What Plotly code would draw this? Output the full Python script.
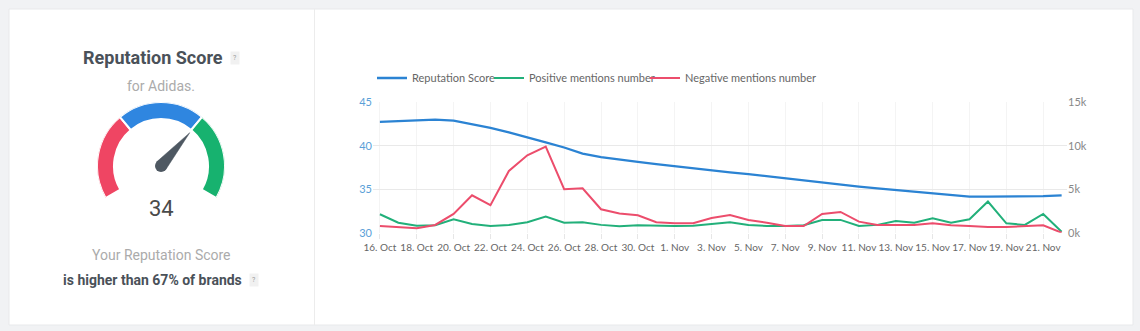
import plotly.graph_objects as go
import pandas as pd

W, H = 1140, 331

# ---------------- data ----------------
dates = pd.date_range("2021-10-16", "2021-11-22", freq="D")

reputation_score = [42.75, 42.85, 42.95, 43.0, 42.9, 42.5, 42.05, 41.55, 41.0, 40.4,
                    39.8, 39.1, 38.7, 38.4, 38.15, 37.9, 37.65, 37.4, 37.15, 36.95,
                    36.75, 36.5, 36.25, 36.0, 35.8, 35.55, 35.3, 35.1, 34.9, 34.7,
                    34.5, 34.3, 34.15, 34.15, 34.15, 34.15, 34.2, 34.3]

positive_mentions = [2120, 1150, 810, 850, 1540, 1000, 770, 900, 1200, 1850,
                     1150, 1200, 900, 730, 850, 770, 770, 800, 1000, 1200,
                     900, 770, 770, 850, 1470, 1470, 770, 900, 1350, 1150,
                     1660, 1150, 1540, 3580, 1080, 900, 2160, 100]

negative_mentions = [770, 620, 500, 890, 2160, 4300, 3160, 7100, 8900, 9900,
                     5000, 5100, 2700, 2200, 2000, 1200, 1100, 1100, 1700, 2040,
                     1470, 1150, 770, 770, 2160, 2390, 1270, 890, 900, 900,
                     1080, 850, 770, 650, 650, 750, 850, 0]

series_names = ["Reputation Score", "Positive mentions number", "Negative mentions number"]

left_ticks = [30, 35, 40, 45]
right_ticks = [0, 5000, 10000, 15000]
right_tick_labels = ["0k", "5k", "10k", "15k"]

# gauge
gauge_bands = [(0, 100 / 3), (100 / 3, 200 / 3), (200 / 3, 100)]
gauge_colors = ["#ef4563", "#2f86e0", "#17b26f"]
gauge_percentile = 67
score_value = 34

# ---------------- styling ----------------
BLUE = "#2b83d3"
GREEN = "#22b07a"
RED = "#ec4d6c"


def px_x(p):
    return p / W


def px_y(p):
    return 1 - p / H


fig = go.Figure()

# main chart lines (each in its own legend so the entries sit where the reference has them)
fig.add_trace(go.Scatter(x=dates, y=reputation_score, name=series_names[0], mode="lines",
                         line=dict(color=BLUE, width=2.3), yaxis="y", legend="legend"))
fig.add_trace(go.Scatter(x=dates, y=positive_mentions, name=series_names[1], mode="lines",
                         line=dict(color=GREEN, width=2), yaxis="y2", legend="legend2"))
fig.add_trace(go.Scatter(x=dates, y=negative_mentions, name=series_names[2], mode="lines",
                         line=dict(color=RED, width=2), yaxis="y2", legend="legend3"))

# gauge (polar)
START, SPAN = -120, 240


def to_theta(v):
    return START + SPAN * v / 100


for (lo, hi), col in zip(gauge_bands, gauge_colors):
    fig.add_trace(go.Barpolar(theta=[to_theta((lo + hi) / 2)], width=[to_theta(hi) - to_theta(lo)],
                              base=[47], r=[17], marker=dict(color=col, line=dict(color="white", width=2)),
                              showlegend=False, subplot="polar", hoverinfo="skip"))

needle = to_theta(gauge_percentile)
fig.add_trace(go.Scatterpolar(r=[6, 44, 6, 6], theta=[needle - 90, needle, needle + 90, needle - 90],
                              mode="lines", fill="toself", fillcolor="#4e5862",
                              line=dict(color="#4e5862", width=0.5), showlegend=False,
                              subplot="polar", hoverinfo="skip"))
fig.add_trace(go.Scatterpolar(r=[0], theta=[0], mode="markers",
                              marker=dict(color="#4e5862", size=12), showlegend=False,
                              subplot="polar", hoverinfo="skip"))

gx, gy, gr = 161, 166, 64

legend_common = dict(orientation="h", xanchor="left", yanchor="middle", y=px_y(78),
                     font=dict(family="Lato", size=11, color="#666666"), bgcolor="rgba(0,0,0,0)",
                     itemwidth=30)

fig.update_layout(
    width=W, height=H,
    margin=dict(l=0, r=0, t=0, b=0, autoexpand=False),
    paper_bgcolor="#f1f2f4",
    plot_bgcolor="rgba(0,0,0,0)",
    font=dict(family="Lato", color="#666666"),
    showlegend=True,
    legend=dict(x=px_x(372), **legend_common),
    legend2=dict(x=px_x(489), **legend_common),
    legend3=dict(x=px_x(645), **legend_common),
    xaxis=dict(domain=[px_x(373), px_x(1067)], type="date", automargin=False,
               range=[dates[0] - pd.Timedelta(hours=9), dates[-1] + pd.Timedelta(hours=7)],
               tick0=dates[0], dtick=2 * 86400000, tickformat="%-d. %b", tickangle=0,
               tickfont=dict(family="Lato", size=10, color="#666666"),
               showgrid=True, gridcolor="#f4f4f4", gridwidth=1,
               ticks="outside", ticklen=5, tickcolor="#e6e6e6",
               showline=False, zeroline=False, fixedrange=True),
    yaxis=dict(domain=[px_y(232.7), px_y(102.3)], range=[30, 45], tickvals=left_ticks, automargin=False,
               tickfont=dict(family="Lato", size=11, color="#5a9fd8"),
               showgrid=True, gridcolor="#e9e9e9", zeroline=False, showline=False, ticks=""),
    yaxis2=dict(overlaying="y", side="right", range=[0, 15000], tickvals=right_ticks, automargin=False,
                ticktext=right_tick_labels, tickfont=dict(family="Lato", size=11, color="#888888"),
                showgrid=False, zeroline=False, showline=False),
    polar=dict(domain=dict(x=[px_x(gx - gr), px_x(gx + gr)], y=[px_y(gy + gr), px_y(gy - gr)]),
               bgcolor="rgba(0,0,0,0)", bargap=0,
               radialaxis=dict(visible=False, range=[0, gr]),
               angularaxis=dict(visible=False, rotation=90, direction="clockwise")),
)

# card backgrounds / divider
fig.add_shape(type="rect", xref="paper", yref="paper", x0=px_x(9), x1=px_x(1133), y0=px_y(325), y1=px_y(9),
              fillcolor="white", line=dict(color="#e8e9eb", width=1), layer="below")
fig.add_shape(type="line", xref="paper", yref="paper", x0=px_x(314.5), x1=px_x(314.5), y0=px_y(325), y1=px_y(9),
              line=dict(color="#ececec", width=1), layer="below")

# left panel texts
LF = "Roboto"


def note(x, y, text, size, color, **kw):
    fig.add_annotation(x=px_x(x), y=px_y(y), xref="paper", yref="paper", text=text, showarrow=False,
                       xanchor="center", yanchor="middle", font=dict(family=LF, size=size, color=color), **kw)


note(153, 58, "<b>Reputation Score</b>", 18, "#4a5159")
note(161, 86, "for Adidas.", 14, "#ababab")
note(161, 208, str(score_value), 22, "#4a4a4a")
note(161, 255, "Your Reputation Score", 14, "#ababab")
note(152, 280, f"<b>is higher than {gauge_percentile}% of brands</b>", 14, "#4a5159")
for qx, qy in [(235, 58), (254, 280)]:
    note(qx, qy, "?", 7, "#9a9a9a", bgcolor="#f1f1f1", borderpad=2)

fig.write_html("out.html")
